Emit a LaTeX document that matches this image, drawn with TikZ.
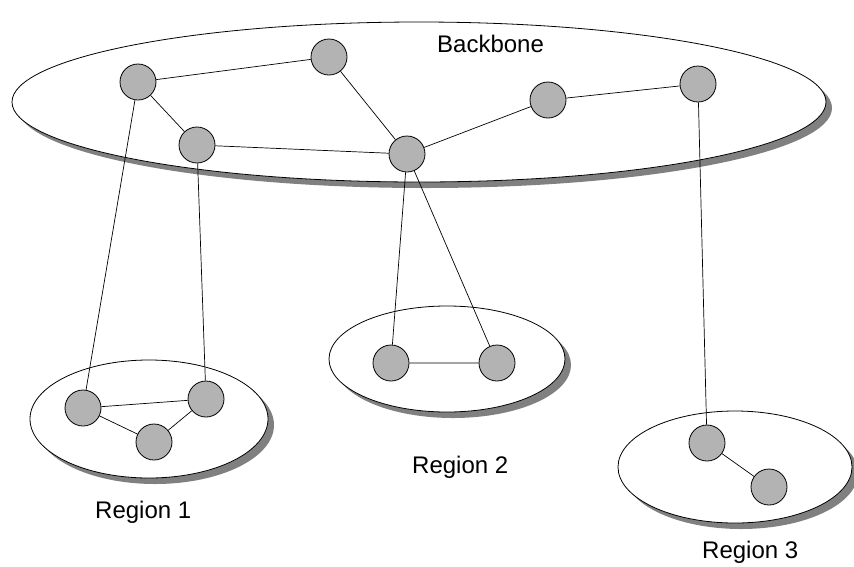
\documentclass[tikz,border=0pt]{standalone}
\usepackage{fontspec}
\setmainfont{Liberation Sans}
\begin{document}
\begin{tikzpicture}[x=1pt,y=-1pt,
  host/.style={circle,draw=black,fill=hostgray,line width=0.8pt,minimum size=36pt,inner sep=0pt},
  link/.style={draw=black,line width=0.7pt},
  area/.style={draw=black,fill=white,line width=0.8pt},
  areashadow/.style={fill=shadowgray},
  lbl/.style={font=\fontsize{24}{28}\selectfont,anchor=base west,inner sep=0pt}]
\definecolor{hostgray}{HTML}{B3B3B3}
\definecolor{shadowgray}{HTML}{808080}
\useasboundingbox (0,0) rectangle (854,566);

% regions with drop shadows
\fill[areashadow] (425,108) ellipse [x radius=407, y radius=80];
\draw[area] (419,102) ellipse [x radius=407, y radius=80];
\fill[areashadow] (155,425) ellipse [x radius=119, y radius=59];
\draw[area] (149,419) ellipse [x radius=119, y radius=59];
\fill[areashadow] (453,365) ellipse [x radius=118, y radius=53];
\draw[area] (447,359) ellipse [x radius=118, y radius=53];
\fill[areashadow] (741,473) ellipse [x radius=117, y radius=56];
\draw[area] (735,467) ellipse [x radius=117, y radius=56];

% labels
\node[lbl] (tbb) at (437,52) {Backbone};
\node[lbl] (tr1) at (95,518) {Region 1};
\node[lbl] (tr2) at (412,473) {Region 2};
\node[lbl] (tr3) at (702,558) {Region 3};

% backbone routers
\node[host] (a) at (138,82) {};
\node[host] (b) at (197,145) {};
\node[host] (c) at (329,57) {};
\node[host] (d) at (407,154) {};
\node[host] (e) at (548,100) {};
\node[host] (f) at (698,84) {};

% region routers
\node[host] (p1) at (83,408) {};
\node[host] (p2) at (206,399) {};
\node[host] (p3) at (154,442) {};
\node[host] (q1) at (391,363) {};
\node[host] (q2) at (497,363) {};
\node[host] (s1) at (707,443) {};
\node[host] (s2) at (769,487) {};

% links
\path[link] (a) -- (c) (a) -- (b) (b) -- (d) (c) -- (d) (d) -- (e) (e) -- (f)
  (a) -- (p1) (b) -- (p2) (d) -- (q1) (d) -- (q2) (f) -- (s1)
  (p1) -- (p2) (p1) -- (p3) (p3) -- (p2) (q1) -- (q2) (s1) -- (s2);
\end{tikzpicture}
\end{document}
